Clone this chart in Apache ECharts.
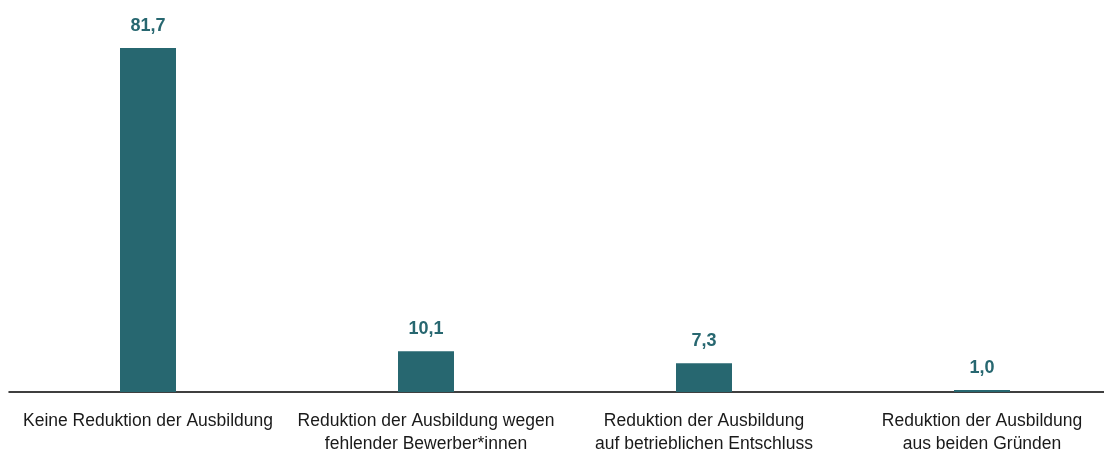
<!DOCTYPE html>
<html>
<head>
<meta charset="utf-8">
<script src="https://cdn.jsdelivr.net/npm/echarts@6/dist/echarts.min.js"></script>
<style>
  html, body { margin: 0; padding: 0; background: #fff; overflow: hidden; }
  /* plot runs past the right edge of the window, as in the original */
  #chart { width: 1121px; height: 452px; }
</style>
</head>
<body>
<div id="chart"></div>
<script>
// categories and shares (%)
const categories = [
  "Keine Reduktion der Ausbildung",
  "Reduktion der Ausbildung wegen\nfehlender Bewerber*innen",
  "Reduktion der Ausbildung\nauf betrieblichen Entschluss",
  "Reduktion der Ausbildung\naus beiden Gründen"
];
const shares = [81.7, 10.1, 7.3, 1.0];

const FONT = '"Liberation Sans", Arial, sans-serif';
const TEAL = "#276770";

const chart = echarts.init(document.getElementById("chart"));
chart.setOption({
  animation: false,
  grid: {
    left: 9,
    right: 0,
    top: 48,
    bottom: 60,
    containLabel: false,
    outerBoundsMode: "none"
  },
  xAxis: {
    type: "category",
    data: categories,
    axisLine: { lineStyle: { color: "#000", width: 1.5 } },
    axisTick: { show: false },
    axisLabel: {
      interval: 0,
      margin: 18,
      color: "#1a1a1a",
      fontFamily: FONT,
      fontSize: 17.5,
      lineHeight: 23
    }
  },
  yAxis: {
    type: "value",
    min: 0.5,
    max: 81.7,
    show: false,
    splitLine: { show: false }
  },
  series: [
    {
      type: "bar",
      data: shares,
      barWidth: 56,
      itemStyle: { color: TEAL },
      label: {
        show: true,
        position: "top",
        distance: 13,
        color: TEAL,
        fontFamily: FONT,
        fontWeight: "bold",
        fontSize: 18,
        formatter: p => p.value.toFixed(1).replace(".", ",")
      }
    }
  ]
});
</script>
</body>
</html>
